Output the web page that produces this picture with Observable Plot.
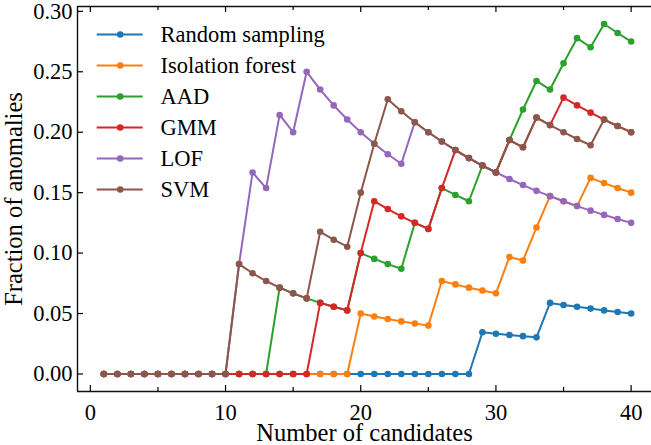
<!DOCTYPE html>
<html><head><meta charset="utf-8">
<script src="https://cdn.jsdelivr.net/npm/d3@7"></script>
<script src="https://cdn.jsdelivr.net/npm/@observablehq/plot@0.6"></script>
<style>
body{margin:0;background:#fff;}
#wrap{position:relative;width:651px;height:445px;overflow:hidden;}
#wrap svg{position:absolute;left:0;top:0;}
#wrap svg, #wrap svg text{font-family:"Liberation Serif","DejaVu Serif",serif !important;}
</style></head><body><div id="wrap"></div>
<script>
// ---- data ----
const candidates = [1,2,3,4,5,6,7,8,9,10,11,12,13,14,15,16,17,18,19,20,21,22,23,24,25,26,27,28,29,30,31,32,33,34,35,36,37,38,39,40];
const randomSampling = [0,0,0,0,0,0,0,0,0,0,0,0,0,0,0,0,0,0,0,0,0,0,0,0,0,0,0,0,0.0345,0.0333,0.0323,0.0313,0.0303,0.0588,0.0571,0.0556,0.0541,0.0526,0.0513,0.05];
const isolationForest = [0,0,0,0,0,0,0,0,0,0,0,0,0,0,0,0,0,0,0,0.05,0.0476,0.0455,0.0435,0.0417,0.04,0.0769,0.0741,0.0714,0.069,0.0667,0.0968,0.0938,0.1212,0.1471,0.1429,0.1389,0.1622,0.1579,0.1538,0.15];
const aad = [0,0,0,0,0,0,0,0,0,0,0,0,0,0.0714,0.0667,0.0625,0.0588,0.0556,0.0526,0.1,0.0952,0.0909,0.087,0.125,0.12,0.1538,0.1481,0.1429,0.1724,0.1667,0.1935,0.2188,0.2424,0.2353,0.2571,0.2778,0.2703,0.2895,0.2821,0.275];
const gmm = [0,0,0,0,0,0,0,0,0,0,0,0,0,0,0,0,0.0588,0.0556,0.0526,0.1,0.1429,0.1364,0.1304,0.125,0.12,0.1538,0.1852,0.1786,0.1724,0.1667,0.1935,0.1875,0.2121,0.2059,0.2286,0.2222,0.2162,0.2105,0.2051,0.2];
const lof = [0,0,0,0,0,0,0,0,0,0,0.0909,0.1667,0.1538,0.2143,0.2,0.25,0.2353,0.2222,0.2105,0.2,0.1905,0.1818,0.1739,0.2083,0.2,0.1923,0.1852,0.1786,0.1724,0.1667,0.1613,0.1563,0.1515,0.1471,0.1429,0.1389,0.1351,0.1316,0.1282,0.125];
const svm = [0,0,0,0,0,0,0,0,0,0,0.0909,0.0833,0.0769,0.0714,0.0667,0.0625,0.1176,0.1111,0.1053,0.15,0.1905,0.2273,0.2174,0.2083,0.2,0.1923,0.1852,0.1786,0.1724,0.1667,0.1935,0.1875,0.2121,0.2059,0.2,0.1944,0.1892,0.2105,0.2051,0.2];
const seriesNames = ["Random sampling","Isolation forest","AAD","GMM","LOF","SVM"];
const seriesColors = ["#1f77b4","#ff7f0e","#2ca02c","#d62728","#9467bd","#8c564b"];
const xMajorTicks = [0,10,20,30,40];
const xMinorTicks = [5,15,25,35];
const yTicks = [0,0.05,0.10,0.15,0.20,0.25,0.30];
const xLabel = "Number of candidates";
const yLabel = "Fraction of anomalies";

// ---- layout ----
const W = 651, H = 445, mL = 77, mT = 6, mB = 54, mR = 0;
const plotH = H - mT - mB, plotW = W - mL - mR;
const xDomain = [-0.95, 41.95], yDomain = [-0.0145, 0.304];
const font = "Liberation Serif, DejaVu Serif, serif";
const fs = 22.5, fsLabel = 24.5;

const seriesValues = [randomSampling, isolationForest, aad, gmm, lof, svm];
const tables = seriesValues.map((vals, i) =>
  candidates.map((c, j) => ({series: seriesNames[i], x: c, y: vals[j]})));

const marks = [];
tables.forEach((t, i) => {
  marks.push(Plot.line(t, {x: "x", y: "y", stroke: seriesColors[i], strokeWidth: 2}));
  marks.push(Plot.dot(t, {x: "x", y: "y", fill: seriesColors[i], r: 3.3}));
});
// spines (left, bottom, top)
const spine = {stroke: "#111", strokeWidth: 1.4};
marks.push(Plot.ruleX([xDomain[0]], spine));
marks.push(Plot.ruleY([yDomain[0]], spine));
marks.push(Plot.ruleY([yDomain[1]], spine));
// inward ticks
const tk = {stroke: "#000", strokeWidth: 1.2};
marks.push(Plot.tickX(xMajorTicks, {x: d => d, insetTop: plotH - 6, ...tk}));
marks.push(Plot.tickX(xMajorTicks, {x: d => d, insetBottom: plotH - 6, ...tk}));
marks.push(Plot.tickX(xMinorTicks, {x: d => d, insetTop: plotH - 4, ...tk}));
marks.push(Plot.tickX(xMinorTicks, {x: d => d, insetBottom: plotH - 4, ...tk}));
marks.push(Plot.tickY(yTicks, {y: d => d, insetRight: plotW - 6, ...tk}));
// tick labels
marks.push(Plot.axisX(xMajorTicks, {tickSize: 0, tickPadding: 13, fontSize: fs, label: null}));
marks.push(Plot.axisY(yTicks, {tickSize: 0, tickPadding: 5, fontSize: fs,
  tickFormat: d => d.toFixed(2), label: null}));
// axis titles
marks.push(Plot.axisX(xMajorTicks, {tickSize: 0, tickFormat: () => "", fontSize: fsLabel,
  label: xLabel, labelAnchor: "center", labelOffset: 49, labelArrow: "none"}));
marks.push(Plot.axisY(yTicks, {tickSize: 0, tickFormat: () => "", fontSize: fsLabel,
  label: yLabel, labelAnchor: "center", labelOffset: 73, labelArrow: "none"}));

const chart = Plot.plot({
  width: W, height: H,
  marginLeft: mL, marginTop: mT, marginBottom: mB, marginRight: mR,
  style: {fontFamily: font, fontSize: fs + "px", color: "#000", background: "transparent"},
  x: {domain: xDomain, range: [mL, 657]},
  y: {domain: yDomain},
  marks
});

const legend = Plot.plot({
  width: W, height: H, margin: 0,
  style: {fontFamily: font, fontSize: fs + "px", color: "#000", background: "transparent"},
  x: {axis: null, domain: [0, 1]},
  y: {axis: null, type: "point", padding: 0, domain: seriesNames, range: [32.7, 189.3]},
  color: {domain: seriesNames, range: seriesColors},
  marks: [
    Plot.tickY(seriesNames, {y: d => d, stroke: d => d, strokeWidth: 2, insetLeft: 96.7, insetRight: W - 142.7}),
    Plot.dot(seriesNames, {y: d => d, fill: d => d, r: 3.3, frameAnchor: "left", dx: 119.7}),
    Plot.text(seriesNames, {y: d => d, text: d => d, frameAnchor: "left", dx: 160, textAnchor: "start", fontSize: fs, fill: "#000"})
  ]
});

const wrap = document.getElementById("wrap");
wrap.appendChild(chart);
wrap.appendChild(legend);
</script></body></html>
